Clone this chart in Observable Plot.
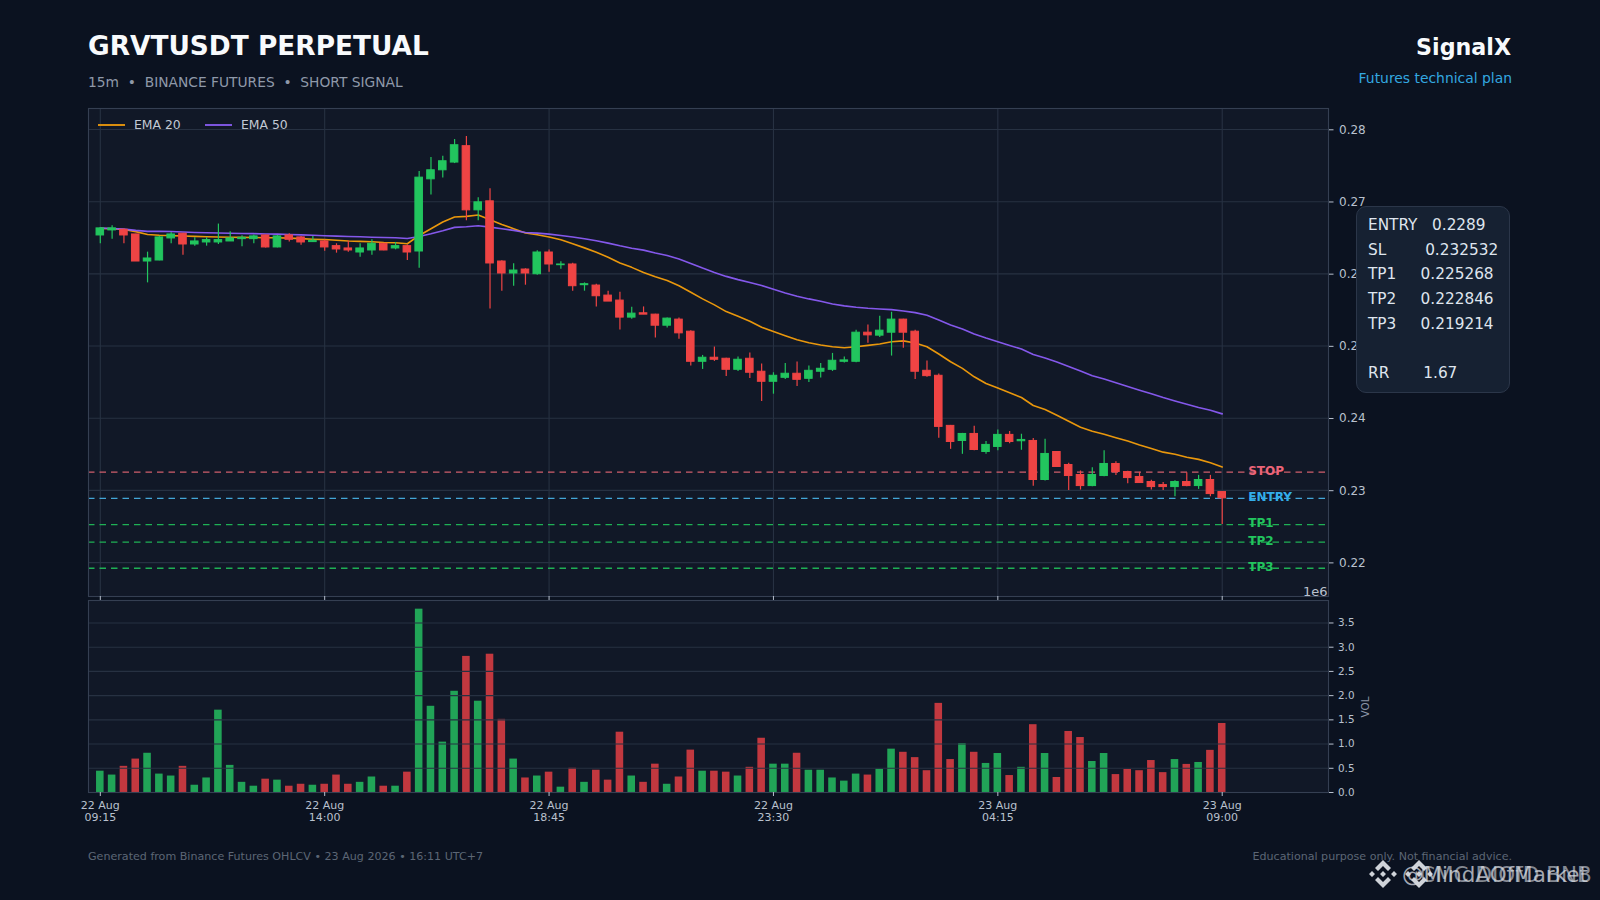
<!DOCTYPE html>
<html>
<head>
<meta charset="utf-8">
<script src="https://cdn.jsdelivr.net/npm/d3@7"></script>
<script src="https://cdn.jsdelivr.net/npm/@observablehq/plot@0.6"></script>
<style>
html,body{margin:0;padding:0;background:#0b1220;width:1600px;height:900px;overflow:hidden;font-family:"DejaVu Sans",sans-serif}
#stage{position:relative;width:1600px;height:900px}
#stage > svg{position:absolute;left:0;top:0}
.t{position:absolute;white-space:pre;line-height:1;transform:translateY(-50%)}
.r{transform:translate(-100%,-50%)}
#box{position:absolute;left:1356px;top:206px;width:154px;height:187px;box-sizing:border-box;background:#162132;border:1px solid #2b3649;border-radius:10px;padding:6px 0 0 11px;color:#dfe5ee;font-size:15.3px;line-height:24.7px;white-space:pre}
.lg{position:absolute;height:1.6px;width:27px}
</style>
</head>
<body>
<div id="stage"></div>
<script>
const title = "GRVTUSDT PERPETUAL";
const subtitle = "15m  •  BINANCE FUTURES  •  SHORT SIGNAL";
const brand = "SignalX";
const brandSub = "Futures technical plan";
const footLeft = "Generated from Binance Futures OHLCV • 23 Aug 2026 • 16:11 UTC+7";
const footRight = "Educational purpose only. Not financial advice.";
const boxLines = ["ENTRY   0.2289","SL        0.232532","TP1     0.225268","TP2     0.222846","TP3     0.219214","","RR       1.67"];

const openK = [265.32,266.02,266.11,265.46,261.71,261.85,264.91,265.56,264.07,264.35,264.35,264.49,264.81,264.81,265.32,263.66,265.32,265.05,264.4,264.49,263.84,263.52,262.96,263.24,264.17,263.52,263.84,263.1,273.1,274.35,275.42,277.69,268.8,270.05,261.71,260.05,260.6,259.95,262.96,261.2,261.3,258.43,258.38,256.99,256.3,253.94,254.54,254.35,252.82,253.66,251.99,247.82,248.38,248.24,246.71,248.24,246.44,245.05,245.6,246.16,245.46,246.44,246.71,247.82,247.82,251.85,251.44,251.85,253.66,251.99,246.57,245.88,238.94,236.85,237.82,235.32,236.02,237.69,236.81,236.85,231.44,235.32,233.52,232.13,230.6,231.99,233.66,232.55,231.85,231.16,230.74,230.46,231.16,230.6,231.44,229.77];
const closeK = [266.3,266.3,265.32,261.71,262.13,265.05,265.46,264.07,264.49,264.68,264.68,264.91,265,265.19,263.66,265.19,264.72,264.35,264.58,263.66,263.38,263.24,263.52,264.17,263.24,263.84,262.96,273.33,274.35,275.6,277.82,268.8,269.91,261.44,260.05,260.46,260.05,262.96,261.3,261.3,258.29,258.57,256.9,256.16,253.94,254.49,254.35,252.82,253.8,251.76,247.82,248.38,248.1,246.71,248.1,246.3,245.05,245.88,246.16,245.32,246.57,246.85,247.96,248.01,251.85,251.48,252.13,253.66,251.85,246.44,245.83,238.8,236.71,237.82,235.6,236.3,237.69,236.71,236.99,231.44,235.05,233.24,231.99,230.6,232.13,233.66,232.55,231.71,231.02,230.46,230.46,231.16,230.6,231.44,229.49,228.9];
const highK = [266.4,266.67,266.2,265.5,263.01,265.2,265.74,265.6,265,265,266.9,265.83,265.28,265.37,265.37,265.32,265.56,265.19,265.19,264.7,264.17,264.54,264.17,264.72,264.2,264.35,264,274.17,276.11,276.3,278.61,279.03,270.56,271.8,261.8,261.39,260.7,263.2,263.29,261.67,261.48,258.75,258.57,257.59,257.45,255.37,255.42,254.4,253.9,253.9,252.13,248.7,249.86,248.3,248.47,249.03,247.5,246.3,247.59,247.78,247.22,247.59,248.98,248.47,252.18,252.92,254.12,254.68,253.7,252.18,247.92,246.11,239,237.9,238.89,236.76,238.38,238.15,237.78,237.18,237.08,235.4,233.75,232.69,233.15,235.51,233.98,232.65,232.5,231.39,231.11,231.34,232.45,232.08,232.08,229.8];
const lowK = [264.17,264.81,264.17,261.7,258.75,261.8,264.17,262.59,263.84,263.84,264.07,264.49,263.75,264.17,263.6,263.6,264.4,263.98,264.35,263.15,262.87,263,262.31,262.59,263.2,263.33,261.85,260.79,270.93,273.29,275.28,267.36,267.36,255.14,257.6,258.29,258.43,259.8,260.23,260.65,257.6,257.6,255.42,256.16,252.22,253.7,254.35,251.11,252.5,250.93,247.22,246.76,247.87,245.79,246.48,245.51,242.31,243.33,245.37,244.4,244.95,245.56,246.48,247.64,247.7,250.37,251.2,248.61,249.68,245.37,245.69,237.22,235.69,235,235.5,235,235.51,236.48,235.56,230.56,231.3,233.2,230,230.05,230.5,231.9,232.08,230.93,231,230.05,230,229.12,230.5,230.14,229.12,225.268];
const ema20K = [266.3,266.25,266.15,265.85,265.45,265.35,265.3,265.25,265.2,265.15,265.1,265.08,265.05,265.03,265,265,264.95,264.88,264.8,264.75,264.65,264.55,264.5,264.45,264.35,264.3,264.17,265.32,266.25,267.18,267.87,267.96,268.15,267.5,266.85,266.25,265.65,265.42,265.1,264.72,264.17,263.6,263,262.3,261.5,260.9,260.2,259.6,259.07,258.35,257.45,256.53,255.7,254.77,254.12,253.43,252.6,252,251.44,250.88,250.46,250.14,249.9,249.77,249.9,250.09,250.28,250.6,250.72,250.42,249.9,248.9,247.82,246.9,245.74,244.81,244.17,243.52,242.87,241.76,241.2,240.42,239.58,238.75,238.2,237.78,237.3,236.85,236.3,235.8,235.3,235,234.6,234.3,233.84,233.24];
const ema50K = [266.34,266.28,266.2,266.02,265.88,265.88,265.86,265.8,265.74,265.7,265.66,265.63,265.6,265.57,265.53,265.5,265.46,265.4,265.34,265.28,265.23,265.18,265.14,265.08,265.04,265,264.9,265.18,265.55,265.97,266.44,266.53,266.67,266.48,266.25,266.02,265.74,265.65,265.5,265.32,265.1,264.86,264.58,264.26,263.89,263.56,263.29,262.9,262.55,262.05,261.45,260.8,260.2,259.65,259.2,258.8,258.38,257.87,257.36,256.9,256.53,256.2,255.83,255.56,255.37,255.23,255.14,255.05,254.86,254.63,254.26,253.61,252.92,252.36,251.67,251.11,250.6,250.09,249.58,248.84,248.33,247.78,247.18,246.53,245.88,245.42,244.91,244.4,243.89,243.38,242.87,242.4,241.94,241.48,241.1,240.6];
const volumeM = [.44,.36,.54,.69,.81,.38,.34,.54,.15,.30,1.70,.56,.21,.13,.275,.255,.13,.17,.15,.17,.36,.17,.21,.32,.13,.13,.42,3.785,1.78,1.04,2.09,2.81,1.885,2.855,1.51,.69,.30,.34,.42,.11,.50,.21,.46,.255,1.245,.34,.21,.585,.17,.32,.875,.44,.44,.42,.34,.52,1.12,.585,.585,.81,.46,.46,.30,.235,.38,.36,.48,.895,.83,.72,.45,1.84,.68,1.01,.83,.60,.805,.35,.52,1.40,.805,.31,1.26,1.135,.64,.805,.37,.475,.45,.66,.41,.68,.58,.62,.87,1.425];

const levelNames = ["STOP","ENTRY","TP1","TP2","TP3"];
const levelValues = [0.232532,0.2289,0.225268,0.222846,0.219214];
const levelLine = ["#d05e6c","#43a6d8","#1fb055","#1fb055","#1fb055"];
const levelText = ["#ec6478","#33aeea","#22c55e","#22c55e","#22c55e"];

const priceTicks = [0.22,0.23,0.24,0.25,0.26,0.27,0.28];
const volTicks = [0,0.5,1,1.5,2,2.5,3,3.5];
const timeTickIndex = [0,19,38,57,76,95];
const timeTickLabels = ["22 Aug\n09:15","22 Aug\n14:00","22 Aug\n18:45","22 Aug\n23:30","23 Aug\n04:15","23 Aug\n09:00"];

const UP="#22c55e", DOWN="#ef4444", VUP="#21a457", VDOWN="#c2383f";
const GRID="#273142", SPINE="#353f52", PANEL="#111827", TICK="#b9c1ce";
const idx = d3.range(openK.length);
const px = k => k/1000;
const isUp = i => closeK[i] >= openK[i];
const xDomain = [-1,104];
const FONT = "DejaVu Sans, sans-serif";
const style = {background:"transparent",color:TICK,fontFamily:FONT,overflow:"visible"};

const main = Plot.plot({
  width:1600,height:604,marginLeft:88,marginRight:272,marginTop:108,marginBottom:8,style,
  x:{domain:xDomain,axis:null},
  y:{domain:[0.2153,0.28291],axis:null},
  marks:[
    Plot.frame({fill:PANEL,stroke:"none"}),
    Plot.ruleY(priceTicks,{stroke:GRID,strokeWidth:1.1}),
    Plot.ruleX(timeTickIndex,{stroke:GRID,strokeWidth:1.1}),
    Plot.ruleY(levelValues,{stroke:(d,i)=>levelLine[i],strokeWidth:1.3,strokeDasharray:"6.5,5"}),
    Plot.line(idx,{x:i=>i,y:i=>px(ema20K[i]),stroke:"#f59e0b",strokeWidth:1.6,strokeOpacity:.95}),
    Plot.line(idx,{x:i=>i,y:i=>px(ema50K[i]),stroke:"#8b5cf6",strokeWidth:1.6,strokeOpacity:.95}),
    Plot.ruleX(idx,{x:i=>i,y1:i=>px(lowK[i]),y2:i=>px(highK[i]),stroke:i=>isUp(i)?UP:DOWN,strokeWidth:1.2}),
    Plot.rect(idx,{x1:i=>i-.32,x2:i=>i+.32,y1:i=>px(openK[i]),y2:i=>px(closeK[i]),fill:i=>isUp(i)?UP:DOWN,stroke:i=>isUp(i)?UP:DOWN,strokeWidth:1}),
    Plot.text(levelValues,{x:idx[idx.length-1],y:d=>d,text:(d,i)=>levelNames[i],fill:(d,i)=>levelText[i],textAnchor:"start",dx:26,dy:-1,fontWeight:"bold",fontSize:12,fontFamily:FONT}),
    Plot.frame({stroke:SPINE,strokeWidth:1.1}),
    Plot.axisY({anchor:"right",ticks:priceTicks,tickFormat:d3.format(".2f"),tickSize:4.5,tickPadding:6,fontSize:12,dy:0.3,label:null}),
    Plot.axisX({anchor:"bottom",ticks:timeTickIndex,tickFormat:()=>"",tickSize:4,label:null}),
    Plot.text(["1e6"],{frameAnchor:"bottom-right",dx:-1,dy:-1,fontSize:13,fontFamily:FONT,fill:TICK})
  ]
});

const vol = Plot.plot({
  width:1600,height:830,marginLeft:88,marginRight:272,marginTop:600,marginBottom:38,style,
  x:{domain:xDomain,axis:null},
  y:{domain:[0,3.964],axis:null},
  marks:[
    Plot.frame({fill:PANEL,stroke:"none"}),
    Plot.rect(idx,{x1:i=>i-.32,x2:i=>i+.32,y1:()=>0,y2:i=>volumeM[i],fill:i=>isUp(i)?VUP:VDOWN}),
    Plot.ruleY(volTicks,{stroke:GRID,strokeWidth:1.1}),
    Plot.frame({stroke:SPINE,strokeWidth:1.1}),
    Plot.axisY({anchor:"right",ticks:volTicks,tickFormat:d3.format(".1f"),tickSize:4.5,tickPadding:5,fontSize:10.4,label:null}),
    Plot.axisX({anchor:"bottom",ticks:timeTickIndex,tickFormat:i=>timeTickLabels[timeTickIndex.indexOf(i)],tickSize:4,tickPadding:5,fontSize:11,lineHeight:1.02,label:null}),
    Plot.text(["VOL"],{frameAnchor:"right",dx:37,rotate:-90,fontSize:10.4,fontFamily:FONT,fill:"#8a94a6"})
  ]
});

const stage = document.getElementById("stage");
stage.append(main,vol);
function addText(str,x,y,css,right){
  const d=document.createElement("div");
  d.className="t"+(right?" r":"");
  d.textContent=str;
  d.style.left=x+"px";d.style.top=y+"px";
  d.style.cssText+=css;
  stage.append(d);
  return d;
}
addText(title,88,46,"font-size:26.4px;font-weight:bold;color:#f8fafc;");
addText(subtitle,88,82.5,"font-size:13.8px;color:#8f99a9;");
addText(brand,1511,47,"font-size:22.2px;font-weight:bold;color:#f8fafc;",true);
addText(brandSub,1512,78.5,"font-size:13.9px;color:#33a8e0;",true);
addText(footLeft,88,857,"font-size:11.1px;color:#5c6675;");
addText(footRight,1512,857,"font-size:11.1px;color:#5c6675;",true);

// legend
function legend(x,color,label){
  const l=document.createElement("div");l.className="lg";
  l.style.left=x+"px";l.style.top="124.3px";l.style.background=color;stage.append(l);
  addText(label,x+36,125,"font-size:12.4px;color:#c2c9d5;");
}
legend(98,"#d98d0e","EMA 20");
legend(205,"#7c55dd","EMA 50");

// plan box
const box=document.createElement("div");box.id="box";box.textContent=boxLines.join("\n");stage.append(box);

// watermark
function logo(x,y,s){
  const ns="http://www.w3.org/2000/svg";
  const g=document.createElementNS(ns,"svg");
  g.setAttribute("width",s);g.setAttribute("height",s);g.setAttribute("viewBox","-14 -14 28 28");
  g.style.cssText=`position:absolute;left:${x}px;top:${y}px;overflow:visible;`;
  const p=document.createElementNS(ns,"path");
  p.setAttribute("fill","#cfd3d9");
  p.setAttribute("d","M0 -14 L8 -6 L5 -3 L0 -8 L-5 -3 L-8 -6Z M0 14 L8 6 L5 3 L0 8 L-5 3 L-8 6Z M-11 -3 L-8 0 L-11 3 L-14 0Z M11 -3 L14 0 L11 3 L8 0Z M0 -3 L3 0 L0 3 L-3 0Z");
  g.append(p);stage.append(g);
}
logo(1368.5,860,28);
logo(1405,860,28);
addText("@MindAOfMarket",1402,875,"font-size:21.5px;color:rgba(215,219,225,.75);");
addText("CMC DIOfD BNB",1420,875,"font-size:21.5px;color:rgba(215,219,225,.6);");
</script>
</body>
</html>
